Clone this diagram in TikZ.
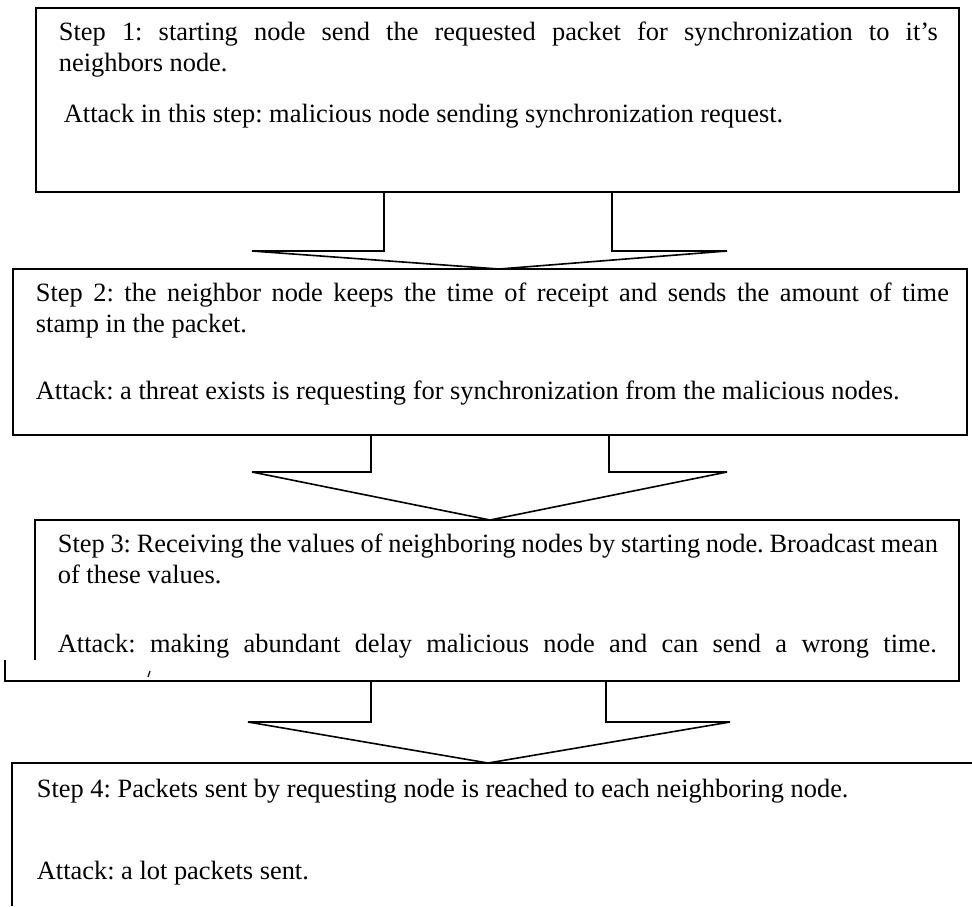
\documentclass[tikz,border=0pt]{standalone}
\usepackage{fontspec}
\setmainfont{Liberation Serif}
\frenchspacing
\begin{document}
\begin{tikzpicture}[x=0.5pt, y=-0.5pt, line width=0.9pt, line join=miter,
  txt/.style={anchor=base west, inner sep=0pt, font=\fontsize{13.2}{16}\selectfont},
  blockarrow/.style={line width=0.8pt}]
  \useasboundingbox (0,0) rectangle (972,906);
  % step 1
  \draw (36,8) rectangle (959,192);
  \node[txt] (s1a) at (58,40) {\makebox[439.5pt][s]{Step 1: starting node send the requested packet for synchronization to it’s}};
  \node[txt] (s1b) at (58,71) {neighbors node.};
  \node[txt] (s1c) at (63,122) {Attack in this step: malicious node sending synchronization request.};
  \draw[blockarrow] (384,192) -- (384,251) -- (252,251) -- (499,269) -- (727,251) -- (612,251) -- (612,192);
  % step 2
  \draw (13,269) rectangle (967,435);
  \node[txt] (s2a) at (35,301) {\makebox[456.5pt][s]{Step 2: the neighbor node keeps the time of receipt and sends the amount of time}};
  \node[txt] (s2b) at (35,332) {stamp in the packet.};
  \node[txt] (s2c) at (35,399) {Attack: a threat exists is requesting for synchronization from the malicious nodes.};
  \draw[blockarrow] (371,435) -- (371,472) -- (252,472) -- (490,520) -- (727,472) -- (609,472) -- (609,435);
  % step 3
  \draw (35,660) -- (35,520) -- (959,520) -- (959,681) -- (5,681) -- (5,660);
  \node[txt] (s3a) at (57,552) {\makebox[440pt][s]{Step 3: Receiving the values of neighboring nodes by starting node. Broadcast mean}};
  \node[txt] (s3b) at (57,583) {of these values.};
  \node[txt] (s3c) at (57,652) {\makebox[439.5pt][s]{Attack: making abundant delay malicious node and can send a wrong time.}};
  \draw[line width=0.6pt] (150,671) -- (148,677);
  \draw[blockarrow] (371,681) -- (371,722) -- (248,722) -- (488,763) -- (730,722) -- (606,722) -- (606,681);
  % step 4
  \draw (12,906) -- (12,763) -- (972,763);
  \node[txt] (s4a) at (36,797) {Step 4: Packets sent by requesting node is reached to each neighboring node.};
  \node[txt] (s4b) at (36,879) {Attack: a lot packets sent.};
\end{tikzpicture}
\end{document}
